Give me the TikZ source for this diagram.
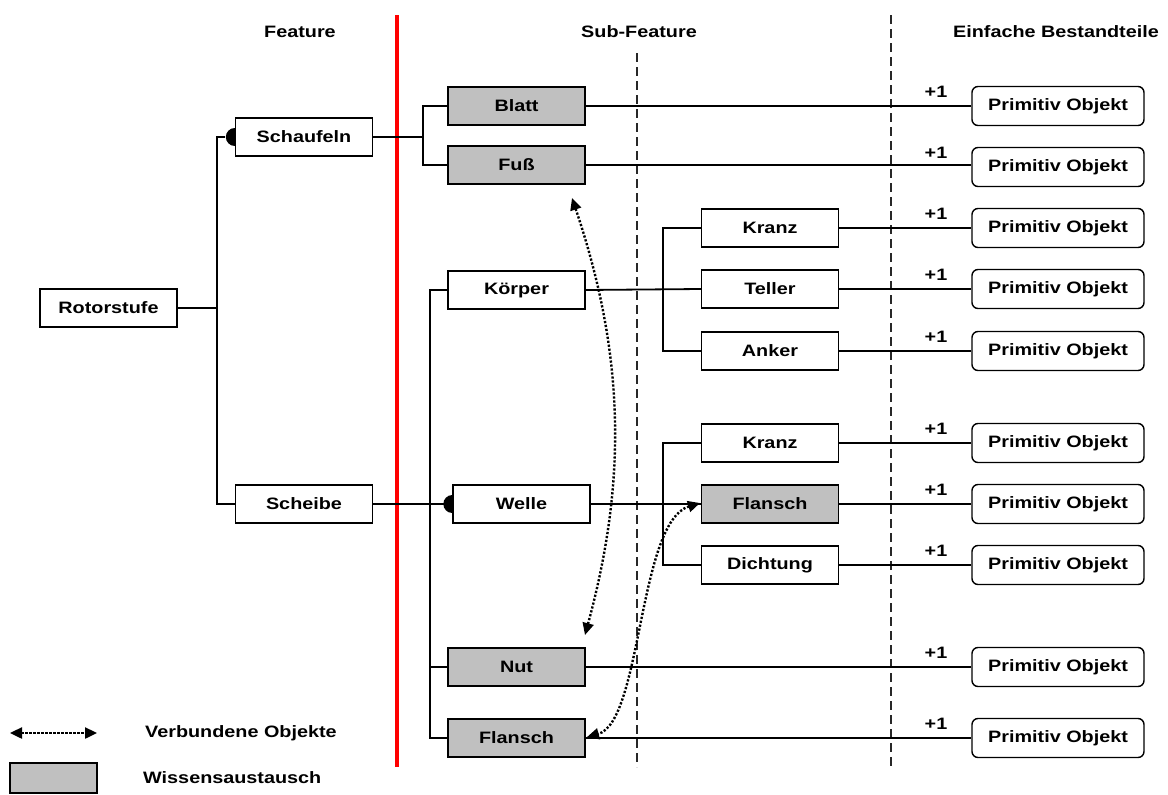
\documentclass[tikz,border=0pt]{standalone}
\usepackage{fontspec}
\setmainfont{Liberation Sans}[FakeStretch=1.2]
\usetikzlibrary{arrows.meta}
\definecolor{boxgray}{RGB}{192,192,192}
\definecolor{dashgray}{RGB}{40,40,40}
\begin{document}
\begin{tikzpicture}[x=1pt,y=-1pt,
  lbl/.style={font=\fontsize{16.5}{18}\selectfont\bfseries, inner sep=0pt},
  box/.style={lbl, draw, line width=1.4pt, minimum width=137pt, minimum height=38pt, fill=white},
  graybox/.style={box, fill=boxgray},
  prim/.style={box, rounded corners=6pt, minimum width=172pt, minimum height=39pt},
  conn/.style={line width=1.8pt},
  sep/.style={dashgray, line width=1.1pt, dash pattern=on 9pt off 5pt},
  link/.style={line width=2.4pt, dash pattern=on 2.2pt off 1.8pt,
    {Triangle[length=12pt,width=11pt]}-{Triangle[length=12pt,width=11pt]}},
  knob/.style={fill=black}
]
\useasboundingbox (0,0) rectangle (1168,795);

% column separators
\draw[red, line width=3.5pt] (397,15) -- (397,767);
\draw[sep] (637,53) -- (637,767);
\draw[sep] (891,15) -- (891,767);

% column headings
\node[lbl] (hfeat) at (300,32) {Feature};
\node[lbl] (hsub)  at (639,32) {Sub-Feature};
\node[lbl] (hprim) at (1056,32) {Einfache Bestandteile};

% tree nodes
\node[box] (rot) at (108.5,308) {Rotorstufe};
\node[box] (sch) at (304,137) {Schaufeln};
\node[box] (sche) at (304,504) {Scheibe};

\node[graybox] (blatt) at (516.5,106) {Blatt};
\node[graybox] (fuss) at (516.5,165) {Fuß};
\node[box] (koerper) at (516.5,290) {Körper};
\node[box] (welle) at (521.5,504) {Welle};
\node[graybox] (nut) at (516.5,667) {Nut};
\node[graybox] (flb) at (516.5,738) {Flansch};

\node[box] (kranzA) at (770,228) {Kranz};
\node[box] (teller) at (770,289) {Teller};
\node[box] (anker) at (770,351) {Anker};
\node[box] (kranzB) at (770,443) {Kranz};
\node[graybox] (flansch) at (770,504) {Flansch};
\node[box] (dicht) at (770,565) {Dichtung};

% primitive objects with their +1 labels
\foreach \n/\y in {1/106,2/167,3/228,4/289,5/351,6/443,7/504,8/565,9/667,10/738}{
  \node[prim] (p\n) at (1058,\y) {Primitiv Objekt};
  \node[lbl] (plus\n) at (936,\y-14) {+1};
}

% Rotorstufe -> Schaufeln / Scheibe
\draw[conn] (rot.east) -- (217,308);
\draw[conn] (sch.west) ++(-10,0) -- (217,137) -- (217,504) -- (sche.west);
\fill[knob] (sch.west) ++(0,9) arc[start angle=90,end angle=270,radius=9] -- cycle;

% Schaufeln -> Blatt / Fuß
\draw[conn] (sch.east) -- (423,137);
\draw[conn] (blatt.west) -- (423,106) -- (423,165) -- (fuss.west);

% Scheibe -> Körper / Welle / Nut / Flansch
\draw[conn] (sche.east) -- (welle.west);
\fill[knob] (welle.west) ++(0,9) arc[start angle=90,end angle=270,radius=9] -- cycle;
\draw[conn] (koerper.west) -- (430,290) -- (430,738) -- (flb.west);
\draw[conn] (nut.west) -- (430,667);

% Körper -> Kranz / Teller / Anker
\draw[conn] (koerper.east) -- (teller.west);
\draw[conn] (kranzA.west) -- (663,228) -- (663,351) -- (anker.west);

% Welle -> Kranz / Flansch / Dichtung
\draw[conn] (welle.east) -- (flansch.west);
\draw[conn] (kranzB.west) -- (663,443) -- (663,565) -- (dicht.west);

% leaves -> primitive objects
\draw[conn] (blatt.east) -- (blatt.east -| p1.west);
\draw[conn] (fuss.east) -- (fuss.east -| p2.west);
\draw[conn] (kranzA.east) -- (kranzA.east -| p3.west);
\draw[conn] (teller.east) -- (teller.east -| p4.west);
\draw[conn] (anker.east) -- (anker.east -| p5.west);
\draw[conn] (kranzB.east) -- (kranzB.east -| p6.west);
\draw[conn] (flansch.east) -- (flansch.east -| p7.west);
\draw[conn] (dicht.east) -- (dicht.east -| p8.west);
\draw[conn] (nut.east) -- (nut.east -| p9.west);
\draw[conn] (flb.east) -- (flb.east -| p10.west);

% links between related objects
\coordinate (fussEnd) at (572,198);
\coordinate (nutEnd) at (585,635);
\coordinate (flanschEnd) at (700,503);
\coordinate (flbEnd) at (587,737);
\draw[link] (fussEnd) .. controls (626,358) and (626,484) .. (nutEnd);
\draw[link] (flanschEnd) .. controls (638,522) and (642,722) .. (flbEnd);

% legend
\coordinate (legA) at (10,733);
\coordinate (legB) at (97,733);
\draw[link] (legA) -- (legB);
\node[lbl, anchor=west] (legtxt1) at (145,733) {Verbundene Objekte};
\node[draw, line width=1.4pt, fill=boxgray, minimum width=87pt, minimum height=30pt, inner sep=0pt] (legbox) at (53.5,778) {};
\node[lbl, anchor=west] (legtxt2) at (143,778) {Wissensaustausch};
\end{tikzpicture}
\end{document}
